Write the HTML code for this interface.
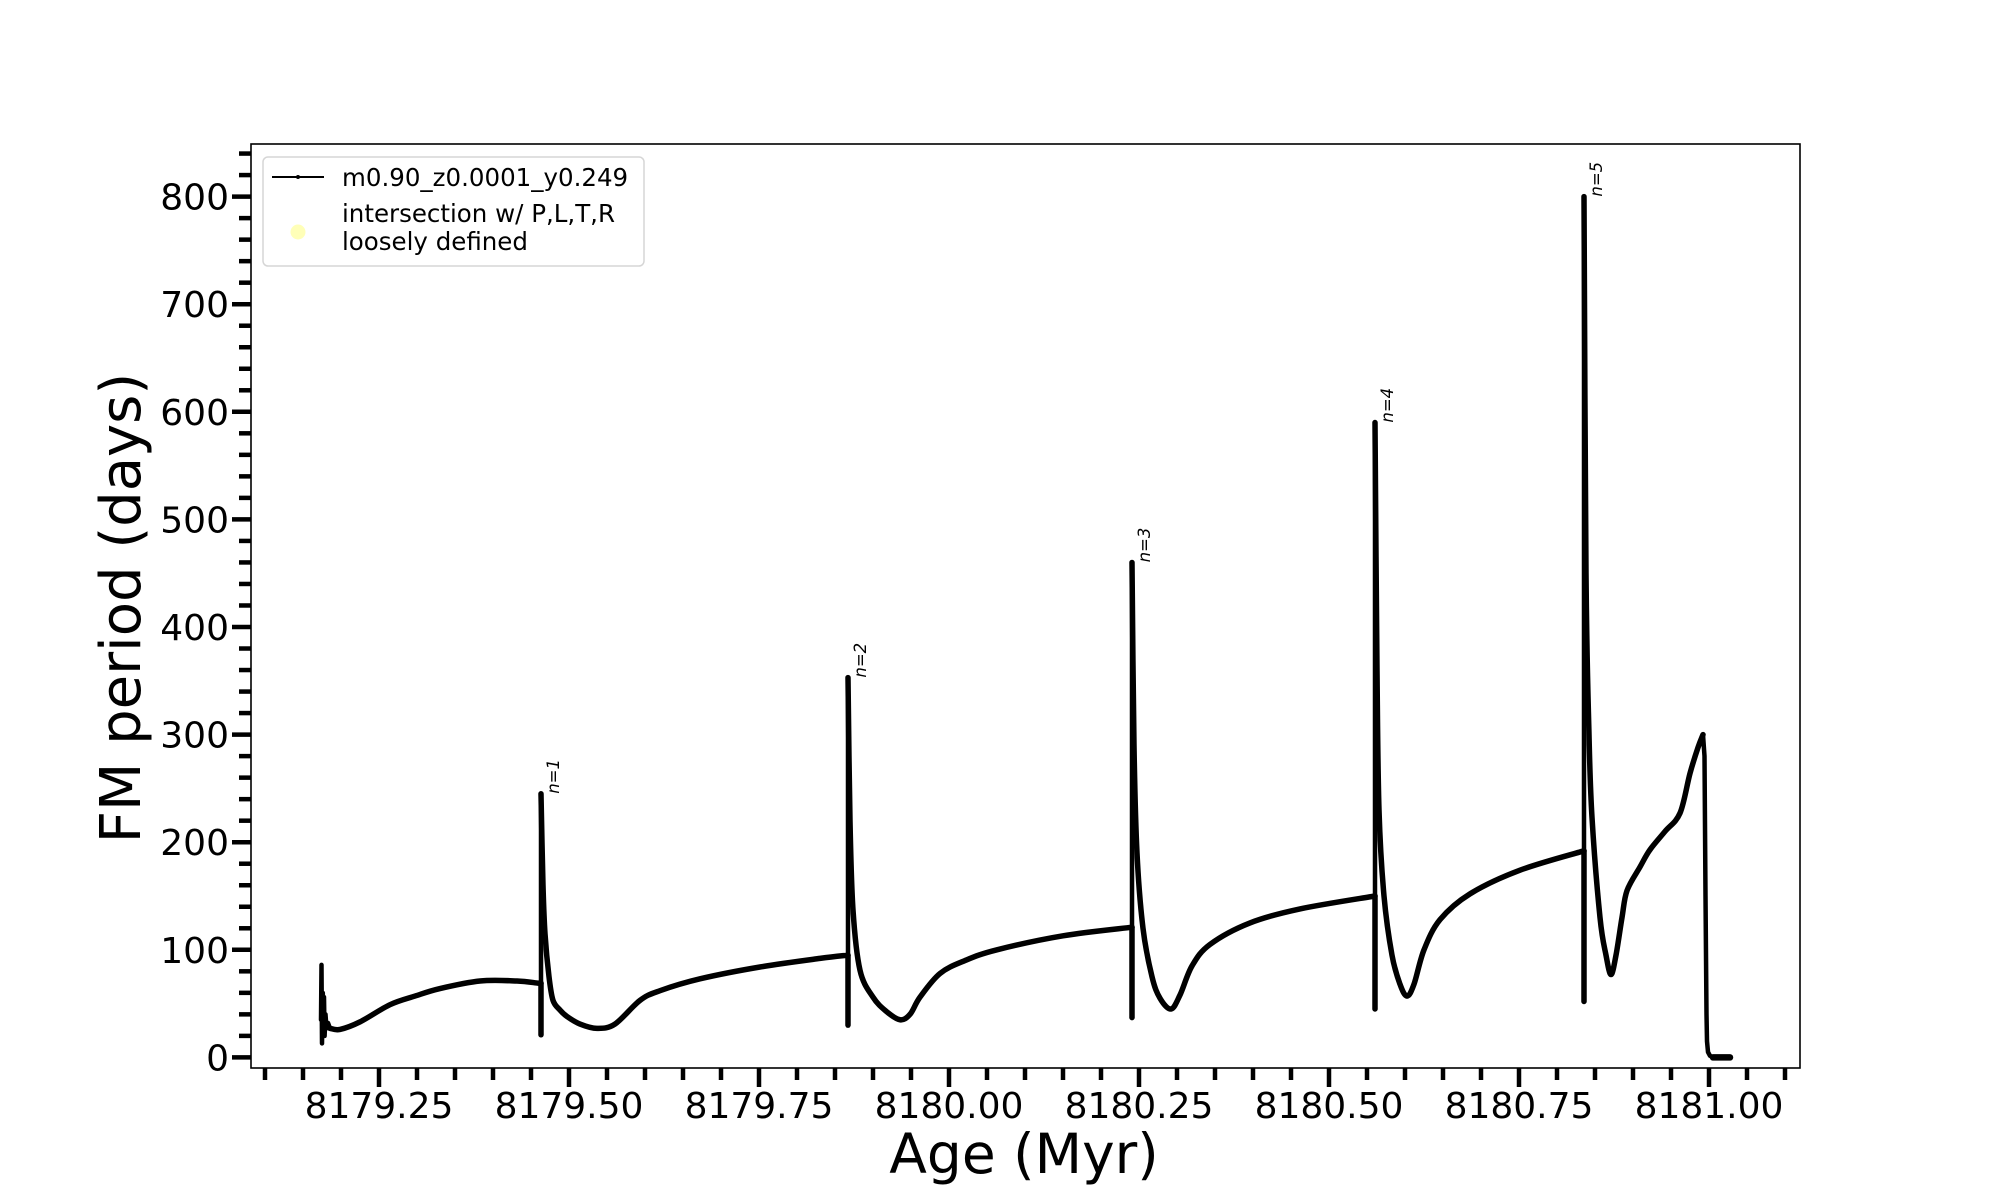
<!DOCTYPE html>
<html><head><meta charset="utf-8"><style>
html,body{margin:0;padding:0;background:#fff;}
svg{display:block;font-family:"DejaVu Sans","Liberation Sans",sans-serif;}
</style></head><body>
<svg id="s" width="2000" height="1200" xmlns="http://www.w3.org/2000/svg">
<rect x="0" y="0" width="2000" height="1200" fill="#fff"/>
<g id="ticks"></g>
<g id="data" fill="none" stroke="#000" stroke-linejoin="round" stroke-linecap="round"></g>
<rect x="251" y="144" width="1549" height="924" fill="none" stroke="#000" stroke-width="1.6"/>
<g id="labels" font-size="36" fill="#000"></g>
<text x="1024" y="1173" font-size="55" text-anchor="middle">Age (Myr)</text>
<text transform="translate(140,608) rotate(-90)" font-size="56" text-anchor="middle">FM period (days)</text>
<rect x="263" y="157" width="381" height="109" rx="5" fill="#fff" fill-opacity="0.8" stroke="#d6d6d6" stroke-width="1.5"/>
<line x1="272" y1="177" x2="324" y2="177" stroke="#000" stroke-width="2"/>
<circle cx="298" cy="177" r="2" fill="#000"/>
<text x="342" y="186" font-size="24.5">m0.90_z0.0001_y0.249</text>
<circle cx="298" cy="232" r="7.5" fill="#ffffb8"/>
<text x="342" y="222" font-size="24.5">intersection w/ P,L,T,R</text>
<text x="342" y="250" font-size="24.5">loosely defined</text>
</svg>
<script>
(function(){
var NS="http://www.w3.org/2000/svg";
function Y(p){return 1057.4-p*1.076;}
function X(a){return 379+(a-8179.25)*760;}
var tk=document.getElementById('ticks'), lb=document.getElementById('labels'), dg=document.getElementById('data');
function el(p,tag,at,txt){var e=document.createElementNS(NS,tag);for(var k in at)e.setAttribute(k,at[k]);if(txt!=null)e.textContent=txt;p.appendChild(e);return e;}
for(var i=0;i<=40;i++){var a=8179.10+i*0.05;var x=X(a);var major=(Math.round((a-8179.0)*100)%25===0);
 el(tk,'line',{x1:x,y1:1068,x2:x,y2:1068+(major?19:12),stroke:'#000','stroke-width':4.5});
 if(major){el(lb,'text',{x:x,y:1118,'text-anchor':'middle'},a.toFixed(2));}}
for(var v=0;v<=840;v+=20){var y=Y(v);var major=(v%100===0);
 el(tk,'line',{x1:251,y1:y,x2:251-(major?19:12),y2:y,stroke:'#000','stroke-width':4.5});
 if(major){el(lb,'text',{x:229,y:y+13,'text-anchor':'end'},String(v));}}
function smooth(pts){var d='M'+pts[0][0]+','+Y(pts[0][1]);
 for(var i=0;i<pts.length-1;i++){var p0=pts[Math.max(0,i-1)],p1=pts[i],p2=pts[i+1],p3=pts[Math.min(pts.length-1,i+2)];
  var x0=p0[0],y0=Y(p0[1]),x1=p1[0],y1=Y(p1[1]),x2=p2[0],y2=Y(p2[1]),x3=p3[0],y3=Y(p3[1]);
  var c1x=x1+(x2-x0)/6,c1y=y1+(y2-y0)/6,c2x=x2-(x3-x1)/6,c2y=y2-(y3-y1)/6;
  d+=' C'+c1x.toFixed(2)+','+c1y.toFixed(2)+' '+c2x.toFixed(2)+','+c2y.toFixed(2)+' '+x2+','+y2.toFixed(2);}
 return d;}
function poly(pts){return 'M'+pts.map(function(p){return p[0]+','+Y(p[1]).toFixed(2);}).join(' L');}
function P(d,w){el(dg,'path',{d:d,'stroke-width':w});}
P(poly([[321,35],[321.5,86],[322,13],[322.8,60],[323.3,22],[324,56],[324.6,20],[325.5,40],[326.5,27],[328,32],[330,27]]),4.5);
P(smooth([[330,27],[340,26],[360,33],[390,49],[415,57],[440,64],[480,71],[517,71],[538,69],[541,69]]),5.5);
var sp=[[541,69,21,245,1],[848,95,30,353,2],[1132,121,37,460,3],[1375,150,45,590,4],[1584,192,52,800,5]];
sp.forEach(function(s){P(poly([[s[0],s[1]],[s[0],s[2]]]),5.5);P(poly([[s[0],s[2]],[s[0],s[3]]]),4.5);
 el(lb,'text',{transform:'translate('+(s[0]+18)+','+Y(s[3]).toFixed(1)+') rotate(-90)','font-size':16.5,'font-style':'italic'},'n='+s[4]);});
P(smooth([[541,245],[543,160],[545,115],[549,75],[553,53],[560,44],[567,38],[580,31],[597,27],[615,31],[640,53],[660,62],[700,73],[760,84],[820,92],[848,95]]),5.5);
P(smooth([[848,353],[850,220],[853,137],[860,81],[873,56],[886,43],[900,35],[910,40],[920,56],[940,78],[965,90],[997,100],[1063,113],[1132,121]]),5.5);
P(smooth([[1132,460],[1134,290],[1137,190],[1143,120],[1152,75],[1160,55],[1171,45],[1180,58],[1192,85],[1210,105],[1250,125],[1300,138],[1375,150]]),5.5);
P(smooth([[1375,590],[1377,360],[1379,230],[1384,150],[1392,95],[1400,68],[1407,57],[1414,68],[1424,100],[1440,128],[1470,152],[1520,174],[1584,192]]),5.5);
P(smooth([[1584,800],[1586,450],[1589,300],[1592,223],[1600,130],[1606,95],[1611,77],[1616,95],[1622,130],[1627,155],[1640,177],[1650,193],[1665,210],[1680,227],[1690,264],[1698,288],[1703,300]]),5.5);
P(poly([[1703,300],[1704.5,280],[1705.5,150],[1706.5,40],[1707,15],[1708,5],[1710,1.5],[1713,0]]),4.5);
P(poly([[1713,0],[1730,0]]),6.5);
})();
</script>
</body></html>
